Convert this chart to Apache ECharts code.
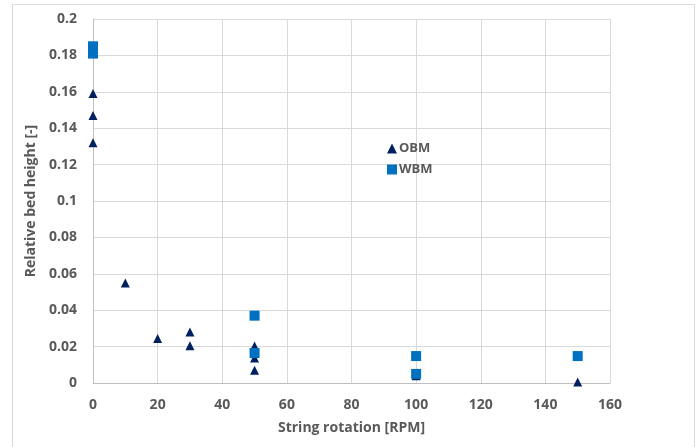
<!DOCTYPE html>
<html>
<head>
<meta charset="utf-8">
<script src="https://cdn.jsdelivr.net/npm/echarts@6/dist/echarts.min.js"></script>
<style>
  html, body { margin: 0; padding: 0; background: #fff; }
  #chart { width: 699px; height: 447px; }
</style>
</head>
<body>
<div id="chart"></div>
<script>
// data
const obmRpm = [0, 0, 0, 10, 20, 30, 30, 50, 50, 50, 50, 100, 150]
const obmHeight = [0.159, 0.147, 0.132, 0.055, 0.0245, 0.028, 0.0205, 0.0203, 0.0165, 0.0137, 0.007, 0.004, 0.0005]
const wbmRpm = [0, 0, 50, 50, 100, 100, 150]
const wbmHeight = [0.185, 0.181, 0.037, 0.0165, 0.0148, 0.005, 0.0148]

const pairs = (xs, ys) => xs.map((x, i) => [x, ys[i]])

const labelColor = '#595959'
const font = '"Open Sans", "Liberation Sans", sans-serif'
const txt = { color: labelColor, fontFamily: font, fontWeight: 'bold', fontSize: 14 }

const chart = echarts.init(document.getElementById('chart'))

const option = {
  animation: false,
  graphic: [
    {
      type: 'rect',
      shape: { x: 12.5, y: 4.5, width: 682, height: 460 },
      style: { fill: 'none', stroke: '#d9d9d9', lineWidth: 1 },
      silent: true
    }
  ],
  grid: {
    left: 93,
    right: 89,
    top: 19,
    bottom: 64
  },
  legend: {
    left: 382,
    top: 137,
    orient: 'vertical',
    itemGap: 8,
    itemWidth: 10,
    itemHeight: 10,
    textStyle: Object.assign({}, txt, { fontSize: 13, padding: [0, 0, 0, -3] }),
    data: ['OBM', 'WBM']
  },
  xAxis: {
    type: 'value',
    min: 0,
    max: 160,
    interval: 20,
    name: 'String rotation [RPM]',
    nameLocation: 'middle',
    nameGap: 38,
    nameTextStyle: txt,
    axisLine: { show: true, lineStyle: { color: '#bfbfbf' } },
    axisTick: { show: false },
    axisLabel: Object.assign({ margin: 15 }, txt),
    splitLine: { show: true, lineStyle: { color: '#d9d9d9' } }
  },
  yAxis: {
    type: 'value',
    min: 0,
    max: 0.2,
    interval: 0.02,
    name: 'Relative bed height [-]',
    nameLocation: 'middle',
    nameGap: 53,
    nameTextStyle: txt,
    axisLine: { show: true, lineStyle: { color: '#bfbfbf' } },
    axisTick: { show: false },
    axisLabel: Object.assign({ margin: 16 }, txt),
    splitLine: { show: true, lineStyle: { color: '#d9d9d9' } }
  },
  series: [
    {
      name: 'OBM',
      type: 'scatter',
      symbol: 'triangle',
      symbolSize: [9, 9],
      itemStyle: { color: '#002060', opacity: 1 },
      data: pairs(obmRpm, obmHeight)
    },
    {
      name: 'WBM',
      type: 'scatter',
      symbol: 'rect',
      symbolSize: 10,
      itemStyle: { color: '#0070c0', opacity: 1 },
      data: pairs(wbmRpm, wbmHeight)
    }
  ]
}

chart.setOption(option)
</script>
</body>
</html>
